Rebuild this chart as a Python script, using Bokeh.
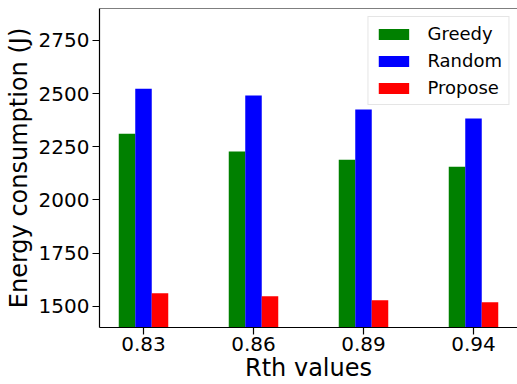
from bokeh.plotting import figure
from bokeh.models import ColumnDataSource, Range1d, FixedTicker, Span, Legend, LegendItem
from bokeh.transform import dodge
from bokeh.embed import file_html
from bokeh.resources import INLINE

categories = ["0.83", "0.86", "0.89", "0.94"]
greedy = [2311, 2227, 2189, 2156]
random_ = [2523, 2491, 2425, 2383]
propose = [1561, 1547, 1528, 1519]
y_ticks = [1500, 1750, 2000, 2250, 2500, 2750]

idx = list(range(len(categories)))
src = ColumnDataSource(dict(x=idx, greedy=greedy, random=random_, propose=propose))

FONT = "DejaVu Sans"
p = figure(width=517, height=384, output_backend="svg", toolbar_location=None,
           x_range=Range1d(-0.4, 3.4), y_range=Range1d(1400, 2900),
           min_border_left=99, min_border_right=0, min_border_top=8, min_border_bottom=56)
p.outline_line_color = None
p.xgrid.visible = False
p.ygrid.visible = False

w = 0.15
r1 = p.vbar(x=dodge("x", -0.15), top="greedy", bottom=0, width=w, source=src, color="green", line_color=None)
r2 = p.vbar(x=dodge("x", 0.0), top="random", bottom=0, width=w, source=src, color="blue", line_color=None)
r3 = p.vbar(x=dodge("x", 0.15), top="propose", bottom=0, width=w, source=src, color="red", line_color=None)

p.add_layout(Span(location=2900, dimension="width", line_color="black", line_width=1.2))

p.xaxis.ticker = FixedTicker(ticks=idx)
p.xaxis.major_label_overrides = {i: c for i, c in zip(idx, categories)}
p.yaxis.ticker = FixedTicker(ticks=y_ticks)
for ax in (p.xaxis[0], p.yaxis[0]):
    ax.major_label_text_font = FONT
    ax.major_label_text_font_size = "20px"
    ax.major_label_text_color = "black"
    ax.axis_label_text_font = FONT
    ax.axis_label_text_font_size = "24px"
    ax.axis_label_text_font_style = "normal"
    ax.axis_label_text_color = "black"
    ax.minor_tick_line_color = None
    ax.major_tick_out = 7
    ax.major_tick_in = 0
    ax.axis_line_color = "black"
    ax.axis_line_width = 1.2
    ax.major_tick_line_width = 1.2
p.xaxis.major_label_standoff = 2
p.yaxis.major_label_standoff = 3
p.xaxis.axis_label = "Rth values"
p.yaxis.axis_label = "Energy consumption (J)"
p.xaxis.axis_label_standoff = 0
p.yaxis.axis_label_standoff = 3

legend = Legend(items=[LegendItem(label="Greedy", renderers=[r1]),
                       LegendItem(label="Random", renderers=[r2]),
                       LegendItem(label="Propose", renderers=[r3])],
                location="top_right")
legend.label_text_font = FONT
legend.label_text_font_size = "18px"
legend.label_text_color = "black"
legend.glyph_width = 38
legend.glyph_height = 14
legend.label_standoff = 15
legend.spacing = 6
legend.padding = 6
legend.margin = 8
legend.border_line_color = "#cccccc"
legend.border_line_width = 1
legend.background_fill_alpha = 0.8
p.add_layout(legend)

open("out.html", "w").write(file_html(p, INLINE))
